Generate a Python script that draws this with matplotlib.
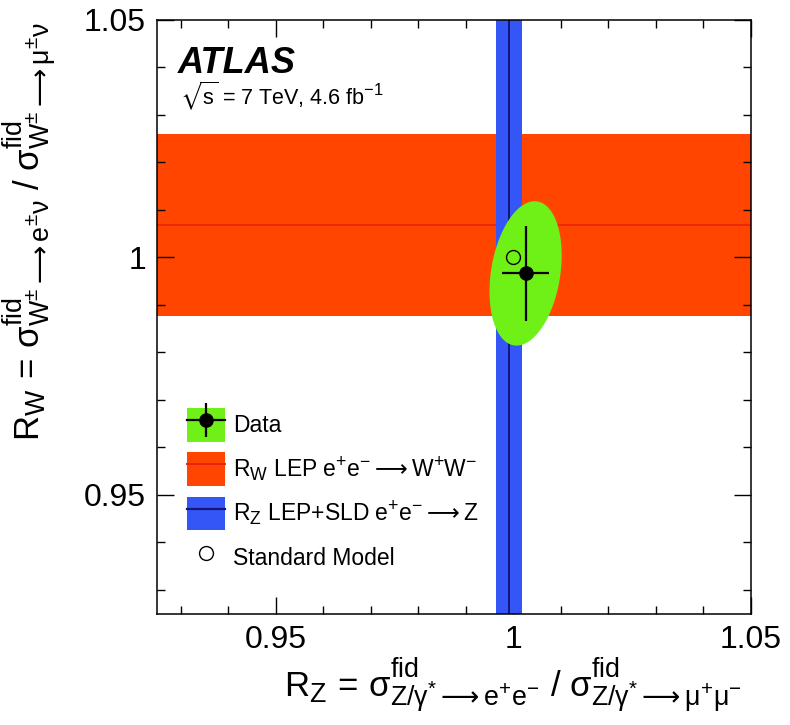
"""
ATLAS R_W vs R_Z lepton universality test, with LEP/SLD bands
"""
import numpy as np
import matplotlib
matplotlib.use('Agg')
import matplotlib._mathtext as mathtext_impl
from matplotlib import pyplot as plt
from matplotlib.patches import Patch
from matplotlib.lines import Line2D
from matplotlib.legend_handler import HandlerTuple

# ROOT-style sub/superscripts are a bit larger than matplotlib's default 0.7
mathtext_impl.SHRINK_FACTOR = 0.77

plt.rcParams['font.family'] = ['Liberation Sans', 'DejaVu Sans']
plt.rcParams['mathtext.fontset'] = 'custom'
plt.rcParams['mathtext.rm'] = 'Liberation Sans'
plt.rcParams['mathtext.it'] = 'Liberation Sans'
plt.rcParams['mathtext.bf'] = 'Liberation Sans:bold'
plt.rcParams['mathtext.sf'] = 'DejaVu Sans'   # used for the arrows only
plt.rcParams['mathtext.fallback'] = 'stixsans'

# ATLAS measurement (R_Z, R_W) with 1 sigma errors and correlation
data_rz, data_rz_err = 1.0026, 0.0050
data_rw, data_rw_err = 0.9966, 0.0100
data_rho = 0.25
contour_scale = 1.52   # 68% CL for two parameters

# LEP / SLD references
lep_rw, lep_rw_err = 1.0068, 0.0192
lep_rz, lep_rz_err = 0.9991, 0.0028

# Standard Model expectation
sm_rz, sm_rw = 1.0, 1.0

axis_range = (0.925, 1.05)
tick_vals = [0.95, 1.0, 1.05]
tick_labels = ['0.95', '1', '1.05']
minor_vals = [0.93, 0.94, 0.96, 0.97, 0.98, 0.99, 1.01, 1.02, 1.03, 1.04]

c_green = '#6ff016'
c_orange = '#ff4500'
c_red = '#e8220f'
c_blue = '#3456f6'
c_navy = '#14147a'

fig = plt.figure(figsize=(7.9, 7.25), dpi=100)
ax = fig.add_axes([157/790, 1 - 613.5/725, 593.75/790, 593.7/725])

# bands
ax.axhspan(lep_rw - lep_rw_err, lep_rw + lep_rw_err, color=c_orange, lw=0, zorder=1)
ax.axhline(lep_rw, color=c_red, lw=1.2, zorder=1.1)
ax.axvspan(lep_rz - lep_rz_err, lep_rz + lep_rz_err, color=c_blue, lw=0, zorder=2)
ax.axvline(lep_rz, color=c_navy, lw=1.4, zorder=2.1)

# 68% contour of the measurement
cov = np.array([[data_rz_err**2, data_rho*data_rz_err*data_rw_err],
                [data_rho*data_rz_err*data_rw_err, data_rw_err**2]])
L = np.linalg.cholesky(cov)
t = np.linspace(0, 2*np.pi, 300)
pts = contour_scale * L @ np.vstack([np.cos(t), np.sin(t)])
ax.fill(data_rz + pts[0], data_rw + pts[1], color=c_green, lw=0, zorder=3)

ax.errorbar([data_rz], [data_rw], xerr=[data_rz_err], yerr=[data_rw_err],
            fmt='o', color='black', ms=9.5, elinewidth=1.6, capsize=0, zorder=4)
ax.plot([sm_rz], [sm_rw], 'o', mfc='none', mec='black', ms=10, mew=1.0, zorder=5)

ax.set_xlim(axis_range)
ax.set_ylim(axis_range)
ax.set_xticks(tick_vals, tick_labels)
ax.set_yticks(tick_vals, tick_labels)
ax.set_xticks(minor_vals, minor=True)
ax.set_yticks(minor_vals, minor=True)
ax.tick_params(which='both', direction='in', top=True, right=True, width=1.0,
               labelsize=23, color='black')
ax.tick_params(which='major', length=12)
ax.tick_params(which='minor', length=6)
ax.tick_params(axis='x', pad=8)
ax.tick_params(axis='y', pad=8)
for sp in ax.spines.values():
    sp.set_linewidth(1.1)
    sp.set_zorder(10)

arrow = r'\mathsf{\longrightarrow}'
ax.set_xlabel(r'$\mathregular{R_{Z}\,=\,\sigma^{fid}_{Z/\gamma^{*}' + arrow + r'e^{+}e^{-}}\ /\ '
              r'\sigma^{fid}_{Z/\gamma^{*}' + arrow + r'\mu^{+}\mu^{-}}}$',
              fontsize=25, ha='right', va='baseline')
ax.xaxis.set_label_coords(0.985, -0.141)
ax.set_ylabel(r'$\mathregular{R_{W}\,=\,\sigma^{fid}_{W^{\pm}' + arrow + r'e^{\pm}\nu}\ /\ '
              r'\sigma^{fid}_{W^{\pm}' + arrow + r'\mu^{\pm}\nu}}$',
              fontsize=25, rotation=90, rotation_mode='anchor',
              ha='right', va='baseline')
ax.yaxis.set_label_coords(-0.196, 0.997)

ax.text(0.0357, 0.911, 'ATLAS', transform=ax.transAxes, fontsize=26,
        fontweight='bold', fontstyle='italic', va='baseline', ha='left')
ax.text(0.0387, 0.858, r'$\sqrt{s}$ = 7 TeV, 4.6 fb$^{-1}$', transform=ax.transAxes,
        fontsize=15.5, va='baseline', ha='left')

handles = [
    (Patch(facecolor=c_green, lw=0),
     Line2D([], [], color='black', lw=1.6, marker='o', ms=9.5),
     Line2D([], [], color='black', ls='none', marker='|', ms=24, mew=1.6)),
    (Patch(facecolor=c_orange, lw=0), Line2D([], [], color=c_red, lw=1.4)),
    (Patch(facecolor=c_blue, lw=0), Line2D([], [], color=c_navy, lw=1.6)),
    Line2D([], [], color='black', ls='none', marker='o', mfc='none', ms=10, mew=1.0),
]
labels = ['Data',
          r'$\mathregular{R_{W}\ LEP\ e^{+}e^{-}' + arrow + r'W^{+}W^{-}}$',
          r'$\mathregular{R_{Z}\ LEP{+}SLD\ e^{+}e^{-}' + arrow + r'Z}$',
          'Standard Model']
ax.legend(handles, labels, handler_map={tuple: HandlerTuple(ndivide=1, pad=0)},
          loc='upper left', bbox_to_anchor=(0.0505, 0.346), frameon=False,
          fontsize=16.5, handlelength=1.66, handleheight=1.9, handletextpad=0.35,
          labelspacing=0.45, borderpad=0, borderaxespad=0)

fig.savefig('out.png', dpi=100)
